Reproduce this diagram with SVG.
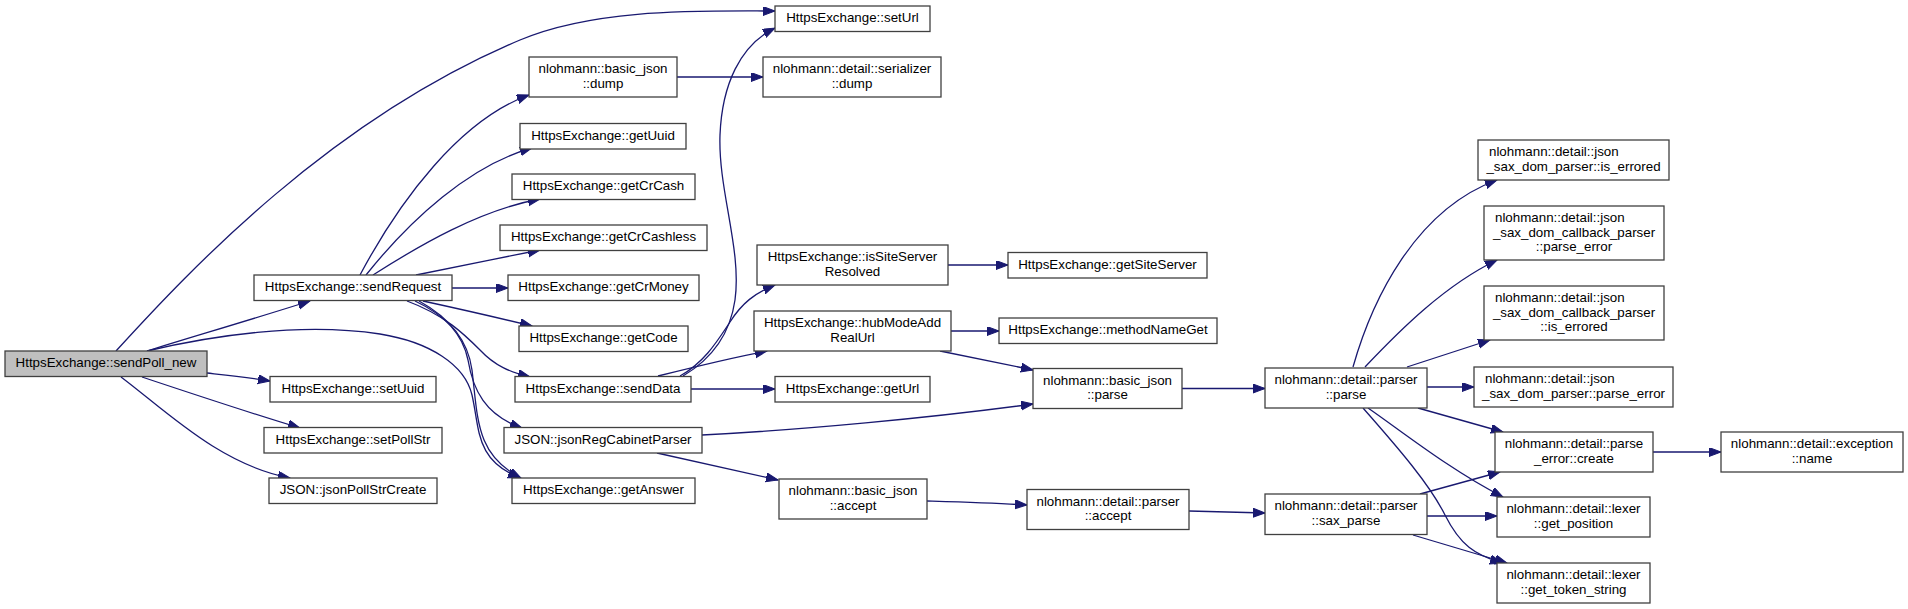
<svg xmlns="http://www.w3.org/2000/svg" width="1908" height="609" viewBox="0 0 1908 609">
<style>
.node rect{fill:#ffffff;stroke:#404040;stroke-width:1.3}
.root rect{fill:#bfbfbf}
text{font-family:"Liberation Sans",Arial,Helvetica,sans-serif;font-size:13.33px;fill:#000000}
.c{text-anchor:middle}
.s{text-anchor:start}
.edge path{fill:none;stroke:#191970;stroke-width:1.3;marker-end:url(#arr)}
</style>
<defs>
<marker id="arr" markerUnits="userSpaceOnUse" markerWidth="14" markerHeight="10" refX="12" refY="4.5" orient="auto">
<path d="M0,0 L12,4.5 L0,9 z" fill="#191970" stroke="#191970" stroke-width="1"/>
</marker>
</defs>
<rect width="1908" height="609" fill="#ffffff"/>
<g id="edges" class="edge">
<path d="M116,351 C190,270 330,120 520,40 C596,8 700,11 775,11"/>
<path d="M147,351 C185,339 250,320 310,301"/>
<path d="M147,351 C210,336 300,322 380,334 C430,342 465,365 472,395 C480,430 475,460 520,478"/>
<path d="M207,373 C225,375 245,377 270,381"/>
<path d="M142,377 C190,393 250,413 300,428"/>
<path d="M121,377 C165,410 220,465 290,478"/>
<path d="M360,275 C400,200 460,120 529,95"/>
<path d="M366,275 C410,220 470,165 532,148"/>
<path d="M373,275 C420,245 480,210 540,199"/>
<path d="M416,275 C450,268 500,258 540,250"/>
<path d="M452,288 L508,288"/>
<path d="M423,301 C455,308 495,317 532,326"/>
<path d="M407,301 C445,315 465,335 480,350 C495,366 510,372 530,377"/>
<path d="M415,301 C445,315 463,335 468,360 C473,390 485,415 522,428"/>
<path d="M419,301 C450,318 468,340 472,370 C478,420 476,455 521,478"/>
<path d="M677,77 L763,77"/>
<path d="M683,376 C710,360 730,335 735,300 C742,250 718,190 720,135 C722,85 740,45 775,28"/>
<path d="M680,376 C705,362 718,340 730,322 C742,303 755,293 775,285"/>
<path d="M658,376 C690,368 730,358 767,351"/>
<path d="M691,389 L775,389"/>
<path d="M948,265 L1008,265"/>
<path d="M951,331 L999,331"/>
<path d="M940,351 L1033,370"/>
<path d="M702,435 C800,430 930,418 1033,404"/>
<path d="M657,453 L778,480"/>
<path d="M1182,388.5 L1265,388.5"/>
<path d="M927,501 C960,502 995,503 1027,505"/>
<path d="M1189,511 L1265,513"/>
<path d="M1353,367 C1372,300 1415,210 1497,180"/>
<path d="M1365,367 C1400,330 1445,285 1497,260"/>
<path d="M1407,367 C1435,358 1462,349 1490,340"/>
<path d="M1427,387 L1474,387"/>
<path d="M1418,408 L1503,432"/>
<path d="M1368,408 C1400,430 1450,470 1503,497"/>
<path d="M1363,408 C1400,450 1430,485 1445,515 C1460,545 1475,555 1502,563"/>
<path d="M1420,494 L1500,472"/>
<path d="M1427,516 L1497,516"/>
<path d="M1413,535 L1507,563"/>
<path d="M1653,452 L1721,452"/>
</g>
<g id="n_sendPoll_new" class="node root"><rect x="5" y="351" width="202" height="25.5"/><text class="c" x="106" y="367.3">HttpsExchange::sendPoll_new</text></g>
<g id="n_sendRequest" class="node"><rect x="254" y="275" width="198" height="25.5"/><text class="c" x="353" y="291.3">HttpsExchange::sendRequest</text></g>
<g id="n_setUuid" class="node"><rect x="270" y="376.5" width="166" height="25.5"/><text class="c" x="353" y="392.8">HttpsExchange::setUuid</text></g>
<g id="n_setPollStr" class="node"><rect x="264" y="427.5" width="178" height="25.5"/><text class="c" x="353" y="443.8">HttpsExchange::setPollStr</text></g>
<g id="n_jsonPollStrCreate" class="node"><rect x="269" y="478" width="168" height="25.5"/><text class="c" x="353" y="494.3">JSON::jsonPollStrCreate</text></g>
<g id="n_setUrl" class="node"><rect x="775" y="6" width="155" height="25.5"/><text class="c" x="852.5" y="22.3">HttpsExchange::setUrl</text></g>
<g id="n_basic_json_dump" class="node"><rect x="529" y="57" width="148" height="40"/><text class="c" x="603" y="73.3">nlohmann::basic_json</text><text class="c" x="603" y="87.6">::dump</text></g>
<g id="n_serializer_dump" class="node"><rect x="763" y="57" width="178" height="40"/><text class="c" x="852" y="73.3">nlohmann::detail::serializer</text><text class="c" x="852" y="87.6">::dump</text></g>
<g id="n_getUuid" class="node"><rect x="520" y="123.5" width="166" height="25.5"/><text class="c" x="603" y="139.8">HttpsExchange::getUuid</text></g>
<g id="n_getCrCash" class="node"><rect x="512" y="174" width="183" height="25.5"/><text class="c" x="603.5" y="190.3">HttpsExchange::getCrCash</text></g>
<g id="n_getCrCashless" class="node"><rect x="500" y="225" width="207" height="25.5"/><text class="c" x="603.5" y="241.3">HttpsExchange::getCrCashless</text></g>
<g id="n_getCrMoney" class="node"><rect x="508" y="275" width="191" height="25.5"/><text class="c" x="603.5" y="291.3">HttpsExchange::getCrMoney</text></g>
<g id="n_getCode" class="node"><rect x="519" y="326" width="169" height="25.5"/><text class="c" x="603.5" y="342.3">HttpsExchange::getCode</text></g>
<g id="n_sendData" class="node"><rect x="515" y="376.5" width="176" height="25.5"/><text class="c" x="603" y="392.8">HttpsExchange::sendData</text></g>
<g id="n_jsonRegCabinetParser" class="node"><rect x="504" y="427.5" width="198" height="25.5"/><text class="c" x="603" y="443.8">JSON::jsonRegCabinetParser</text></g>
<g id="n_getAnswer" class="node"><rect x="512" y="478" width="183" height="25.5"/><text class="c" x="603.5" y="494.3">HttpsExchange::getAnswer</text></g>
<g id="n_isSiteServerResolved" class="node"><rect x="757" y="245" width="191" height="40"/><text class="c" x="852.5" y="261.3">HttpsExchange::isSiteServer</text><text class="c" x="852.5" y="275.6">Resolved</text></g>
<g id="n_hubModeAddRealUrl" class="node"><rect x="754" y="311" width="197" height="40"/><text class="c" x="852.5" y="327.3">HttpsExchange::hubModeAdd</text><text class="c" x="852.5" y="341.6">RealUrl</text></g>
<g id="n_getUrl" class="node"><rect x="775" y="376.5" width="155" height="25.5"/><text class="c" x="852.5" y="392.8">HttpsExchange::getUrl</text></g>
<g id="n_basic_json_accept" class="node"><rect x="779" y="479" width="148" height="40"/><text class="c" x="853" y="495.3">nlohmann::basic_json</text><text class="c" x="853" y="509.6">::accept</text></g>
<g id="n_getSiteServer" class="node"><rect x="1008" y="252.5" width="199" height="25.5"/><text class="c" x="1107.5" y="268.8">HttpsExchange::getSiteServer</text></g>
<g id="n_methodNameGet" class="node"><rect x="999" y="318" width="218" height="25.5"/><text class="c" x="1108" y="334.3">HttpsExchange::methodNameGet</text></g>
<g id="n_basic_json_parse" class="node"><rect x="1033" y="368.5" width="149" height="40"/><text class="c" x="1107.5" y="384.8">nlohmann::basic_json</text><text class="c" x="1107.5" y="399.1">::parse</text></g>
<g id="n_parser_accept" class="node"><rect x="1027" y="489.5" width="162" height="40"/><text class="c" x="1108" y="505.8">nlohmann::detail::parser</text><text class="c" x="1108" y="520.1">::accept</text></g>
<g id="n_parser_parse" class="node"><rect x="1265" y="368" width="162" height="40"/><text class="c" x="1346" y="384.3">nlohmann::detail::parser</text><text class="c" x="1346" y="398.6">::parse</text></g>
<g id="n_parser_sax_parse" class="node"><rect x="1265" y="494" width="162" height="40.5"/><text class="c" x="1346" y="510.3">nlohmann::detail::parser</text><text class="c" x="1346" y="524.6">::sax_parse</text></g>
<g id="n_sdp_is_errored" class="node"><rect x="1478" y="140" width="191" height="40"/><text class="s" x="1489" y="156.3">nlohmann::detail::json</text><text class="c" x="1573.5" y="170.6">_sax_dom_parser::is_errored</text></g>
<g id="n_sdcp_parse_error" class="node"><rect x="1484" y="206" width="180" height="54"/><text class="s" x="1495" y="222.3">nlohmann::detail::json</text><text class="c" x="1574" y="236.6">_sax_dom_callback_parser</text><text class="c" x="1574" y="250.9">::parse_error</text></g>
<g id="n_sdcp_is_errored" class="node"><rect x="1484" y="286" width="180" height="54"/><text class="s" x="1495" y="302.3">nlohmann::detail::json</text><text class="c" x="1574" y="316.6">_sax_dom_callback_parser</text><text class="c" x="1574" y="330.9">::is_errored</text></g>
<g id="n_sdp_parse_error" class="node"><rect x="1474" y="367" width="199" height="40"/><text class="s" x="1485" y="383.3">nlohmann::detail::json</text><text class="c" x="1573.5" y="397.6">_sax_dom_parser::parse_error</text></g>
<g id="n_parse_error_create" class="node"><rect x="1495" y="432" width="158" height="40"/><text class="c" x="1574" y="448.3">nlohmann::detail::parse</text><text class="c" x="1574" y="462.6">_error::create</text></g>
<g id="n_exception_name" class="node"><rect x="1721" y="432" width="182" height="40"/><text class="c" x="1812" y="448.3">nlohmann::detail::exception</text><text class="c" x="1812" y="462.6">::name</text></g>
<g id="n_lexer_get_position" class="node"><rect x="1497" y="497" width="153" height="40"/><text class="c" x="1573.5" y="513.3">nlohmann::detail::lexer</text><text class="c" x="1573.5" y="527.6">::get_position</text></g>
<g id="n_lexer_get_token_string" class="node"><rect x="1497" y="563" width="153" height="40"/><text class="c" x="1573.5" y="579.3">nlohmann::detail::lexer</text><text class="c" x="1573.5" y="593.6">::get_token_string</text></g>
</svg>
